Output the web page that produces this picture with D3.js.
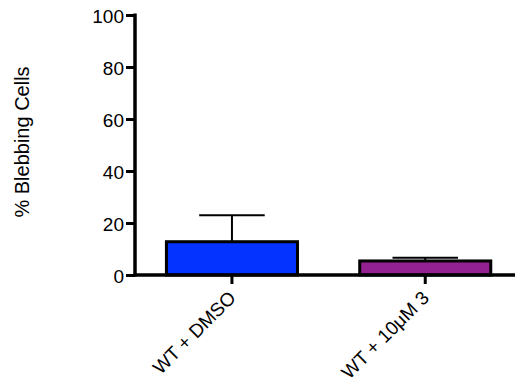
<!DOCTYPE html>
<html>
<head>
<meta charset="utf-8">
<script src="https://cdn.jsdelivr.net/npm/d3@7"></script>
<style>
  body { margin: 0; background: #fff; }
  svg { display: block; font-family: "Liberation Sans", Arial, Helvetica, sans-serif; }
</style>
</head>
<body>
<svg width="517" height="383"></svg>
<script>
// data
let categories = ["WT + DMSO", "WT + 10\u03BCM 3"];
let means = [12.8, 5.4];
let errors = [10.2, 1.2];
let barColors = ["#0433ff", "#942192"];
let yTicks = [0, 20, 40, 60, 80, 100];

let svg = d3.select("svg");

let y = d3.scaleLinear().domain([0, 100]).range([275, 15]);
let x = d3.scaleBand().domain(categories)
    .range([135.5, 521.7])
    .paddingInner(0.322)
    .paddingOuter(0.16);

// bars
svg.append("g").selectAll("rect")
    .data(categories)
    .enter().append("rect")
    .attr("x", d => x(d))
    .attr("y", (d, i) => y(means[i]))
    .attr("width", x.bandwidth())
    .attr("height", (d, i) => y(0) - y(means[i]))
    .attr("fill", (d, i) => barColors[i])
    .attr("stroke", "#000")
    .attr("stroke-width", 3);

// error bars (upper only)
let err = svg.append("g").attr("stroke", "#000").attr("stroke-width", 2);
categories.forEach(function (c, i) {
    let cx = x(c) + x.bandwidth() / 2;
    let capW = x.bandwidth() / 2;
    err.append("line")
        .attr("x1", cx).attr("x2", cx)
        .attr("y1", y(means[i])).attr("y2", y(means[i] + errors[i]));
    err.append("line")
        .attr("x1", cx - capW / 2).attr("x2", cx + capW / 2)
        .attr("y1", y(means[i] + errors[i])).attr("y2", y(means[i] + errors[i]));
});

// y axis
let yAxis = svg.append("g")
    .attr("transform", "translate(135,0)")
    .call(d3.axisLeft(y).tickValues(yTicks).tickSize(9).tickSizeOuter(0).tickPadding(2));
yAxis.select(".domain").attr("stroke-width", 3.5).attr("d", "M0," + (y(0) + 1.5) + "V" + (y(100) - 1.5));
yAxis.selectAll(".tick line").attr("stroke-width", 3);
yAxis.selectAll(".tick text").attr("font-size", 19).attr("dy", "0.4em").attr("fill", "#000");

// x axis
let xAxis = svg.append("g")
    .attr("transform", "translate(0," + y(0) + ")")
    .call(d3.axisBottom(x).tickSize(9).tickSizeOuter(0).tickFormat(""));
xAxis.select(".domain").attr("stroke-width", 3.5).attr("d", "M133.5,0H515");
xAxis.selectAll(".tick line").attr("stroke-width", 3);

// rotated category labels
svg.append("g").selectAll("text")
    .data(categories)
    .enter().append("text")
    .attr("transform", d => "translate(" + (x(d) + x.bandwidth() / 2 + 5) + ",299) rotate(-45)")
    .attr("text-anchor", "end")
    .attr("font-size", 19)
    .text(d => d);

// y label
svg.append("text")
    .attr("transform", "translate(29,142) rotate(-90)")
    .attr("text-anchor", "middle")
    .attr("font-size", 20)
    .text("% Blebbing Cells");
</script>
</body>
</html>
